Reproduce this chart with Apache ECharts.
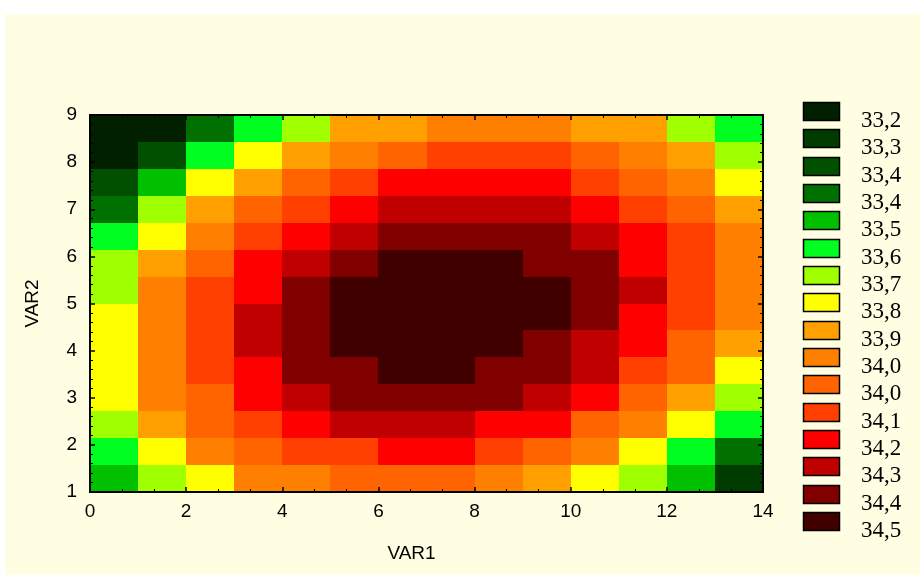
<!DOCTYPE html>
<html>
<head>
<meta charset="utf-8">
<title>VAR1 / VAR2</title>
<script src="https://cdn.jsdelivr.net/npm/echarts@6/dist/echarts.min.js"></script>
<style>
  html, body { margin: 0; padding: 0; background: #fff; }
  #paper { position: absolute; left: 5px; top: 14px; width: 915px; height: 561px; background: #fffee2; }
  #chart { position: absolute; left: 0; top: 0; width: 920px; height: 575px; }
</style>
</head>
<body>
<div id="paper"></div>
<div id="chart"></div>
<script>
// VAR1 bins (left edge of each column, width 1)
var var1Bins = [0, 1, 2, 3, 4, 5, 6, 7, 8, 9, 10, 11, 12, 13];
// VAR2 bins (lower edge of each row), 14 rows between 1 and 9
var var2Bins = [1, 1.5714, 2.1429, 2.7143, 3.2857, 3.8571, 4.4286, 5, 5.5714, 6.1429, 6.7143, 7.2857, 7.8571, 8.4286];
var var2Step = 0.5714;

// surface values, one row per VAR2 bin, from bottom to top
var zRows = [
  [33.54, 33.71, 33.79, 33.96, 33.96, 34.05, 34.05, 34.05, 33.96, 33.88, 33.79, 33.71, 33.54, 33.28],
  [33.62, 33.79, 33.96, 34.05, 34.13, 34.13, 34.22, 34.22, 34.13, 34.05, 33.96, 33.79, 33.62, 33.45],
  [33.71, 33.88, 34.05, 34.13, 34.22, 34.30, 34.30, 34.30, 34.22, 34.22, 34.05, 33.96, 33.79, 33.62],
  [33.79, 33.96, 34.05, 34.22, 34.30, 34.39, 34.39, 34.39, 34.39, 34.30, 34.22, 34.05, 33.88, 33.71],
  [33.79, 33.96, 34.13, 34.22, 34.39, 34.39, 34.47, 34.47, 34.39, 34.39, 34.30, 34.13, 34.05, 33.79],
  [33.79, 33.96, 34.13, 34.30, 34.39, 34.47, 34.47, 34.47, 34.47, 34.39, 34.30, 34.22, 34.05, 33.88],
  [33.79, 33.96, 34.13, 34.30, 34.39, 34.47, 34.47, 34.47, 34.47, 34.47, 34.39, 34.22, 34.13, 33.96],
  [33.71, 33.96, 34.13, 34.22, 34.39, 34.47, 34.47, 34.47, 34.47, 34.47, 34.39, 34.30, 34.13, 33.96],
  [33.71, 33.88, 34.05, 34.22, 34.30, 34.39, 34.47, 34.47, 34.47, 34.39, 34.39, 34.22, 34.13, 33.96],
  [33.62, 33.79, 33.96, 34.13, 34.22, 34.30, 34.39, 34.39, 34.39, 34.39, 34.30, 34.22, 34.13, 33.96],
  [33.45, 33.71, 33.88, 34.05, 34.13, 34.22, 34.30, 34.30, 34.30, 34.30, 34.22, 34.13, 34.05, 33.88],
  [33.37, 33.54, 33.79, 33.88, 34.05, 34.13, 34.22, 34.22, 34.22, 34.22, 34.13, 34.05, 33.96, 33.79],
  [33.20, 33.37, 33.62, 33.79, 33.88, 33.96, 34.05, 34.13, 34.13, 34.13, 34.05, 33.96, 33.88, 33.71],
  [33.20, 33.20, 33.45, 33.62, 33.71, 33.88, 33.88, 33.96, 33.96, 33.96, 33.88, 33.88, 33.71, 33.62]
];

// contour levels: class boundaries, colours and legend labels
var levelBounds = [33.16, 33.24, 33.33, 33.41, 33.50, 33.58, 33.67, 33.75, 33.84, 33.92, 34.01, 34.09, 34.18, 34.26, 34.35, 34.43, 34.52];
var levelColors = ['#002000', '#003c00', '#005000', '#007000', '#00c000', '#00ff20', '#a0ff00', '#ffff00',
                   '#ffa000', '#ff8000', '#ff6400', '#ff4000', '#ff0000', '#c00000', '#800000', '#400000'];
var levelLabels = ['33,2', '33,3', '33,4', '33,4', '33,5', '33,6', '33,7', '33,8',
                   '33,9', '34,0', '34,0', '34,1', '34,2', '34,3', '34,4', '34,5'];

var chart = echarts.init(document.getElementById('chart'));

var cells = [];
zRows.forEach(function (row, j) {
  row.forEach(function (z, i) {
    cells.push([var1Bins[i], var2Bins[j], z]);
  });
});

var pieces = levelColors.map(function (c, k) {
  return { gte: levelBounds[k], lt: levelBounds[k + 1], color: c };
});

function renderCell(params, api) {
  var p0 = api.coord([api.value(0), api.value(1) + var2Step]);
  var p1 = api.coord([api.value(0) + 1, api.value(1)]);
  var x0 = Math.round(p0[0]), y0 = Math.round(p0[1]);
  var x1 = Math.round(p1[0]), y1 = Math.round(p1[1]);
  return {
    type: 'rect',
    shape: { x: x0, y: y0, width: x1 - x0, height: y1 - y0 },
    style: { fill: api.visual('color') }
  };
}

// legend boxes on the right
var legendItems = [];
levelColors.forEach(function (c, k) {
  var top = 102 + k * 27.33;
  legendItems.push({
    type: 'rect',
    shape: { x: 803.5, y: Math.round(top) + 0.5, width: 36, height: 18 },
    style: { fill: c, stroke: '#000', lineWidth: 1.5 }
  });
  legendItems.push({
    type: 'text',
    x: 861,
    y: top + 19,
    style: {
      text: levelLabels[k],
      font: '23px "Liberation Serif"',
      fill: '#000',
      verticalAlign: 'middle'
    }
  });
});

var axisCommon = {
  type: 'value',
  z: 5,
  axisLine: { show: true, onZero: false, lineStyle: { color: '#000', width: 2 } },
  axisTick: { show: true, inside: true, length: 5, lineStyle: { color: '#000', width: 1.5 } },
  minorTick: { show: true, length: 3, lineStyle: { color: '#000', width: 1 } },
  splitLine: { show: false },
  axisLabel: { color: '#000', fontSize: 19, fontFamily: '"Liberation Sans", Arial' }
};

function axis(extra) {
  return echarts.util.merge(echarts.util.clone(axisCommon), extra, true);
}

var options = {
  backgroundColor: 'transparent',
  animation: false,
  grid: { left: 90, right: 157, top: 115, bottom: 83 },
  xAxis: [
    axis({
      position: 'bottom', min: 0, max: 14, interval: 2,
      minorTick: { splitNumber: 3 },
      axisLabel: { margin: 10 },
      name: 'VAR1', nameLocation: 'middle', nameGap: 52,
      nameTextStyle: { color: '#000', fontSize: 19, fontFamily: '"Liberation Sans", Arial', padding: [0, 30, 0, 0] }
    }),
    axis({
      position: 'top', min: 0, max: 14, interval: 2,
      minorTick: { splitNumber: 3 },
      axisLabel: { show: false }
    })
  ],
  yAxis: [
    axis({
      position: 'left', min: 1, max: 9, interval: 1,
      minorTick: { splitNumber: 5 },
      axisLabel: { margin: 13 },
      name: 'VAR2', nameLocation: 'middle', nameGap: 48, nameRotate: 90,
      nameTextStyle: { color: '#000', fontSize: 19, fontFamily: '"Liberation Sans", Arial' }
    }),
    axis({
      position: 'right', min: 1, max: 9, interval: 1,
      minorTick: { splitNumber: 5 },
      axisLabel: { show: false }
    })
  ],
  visualMap: {
    type: 'piecewise',
    show: false,
    dimension: 2,
    seriesIndex: 0,
    pieces: pieces
  },
  graphic: legendItems,
  series: [{
    type: 'custom',
    silent: true,
    renderItem: renderCell,
    encode: { x: 0, y: 1 },
    data: cells
  }]
};

chart.setOption(options);
</script>
</body>
</html>
